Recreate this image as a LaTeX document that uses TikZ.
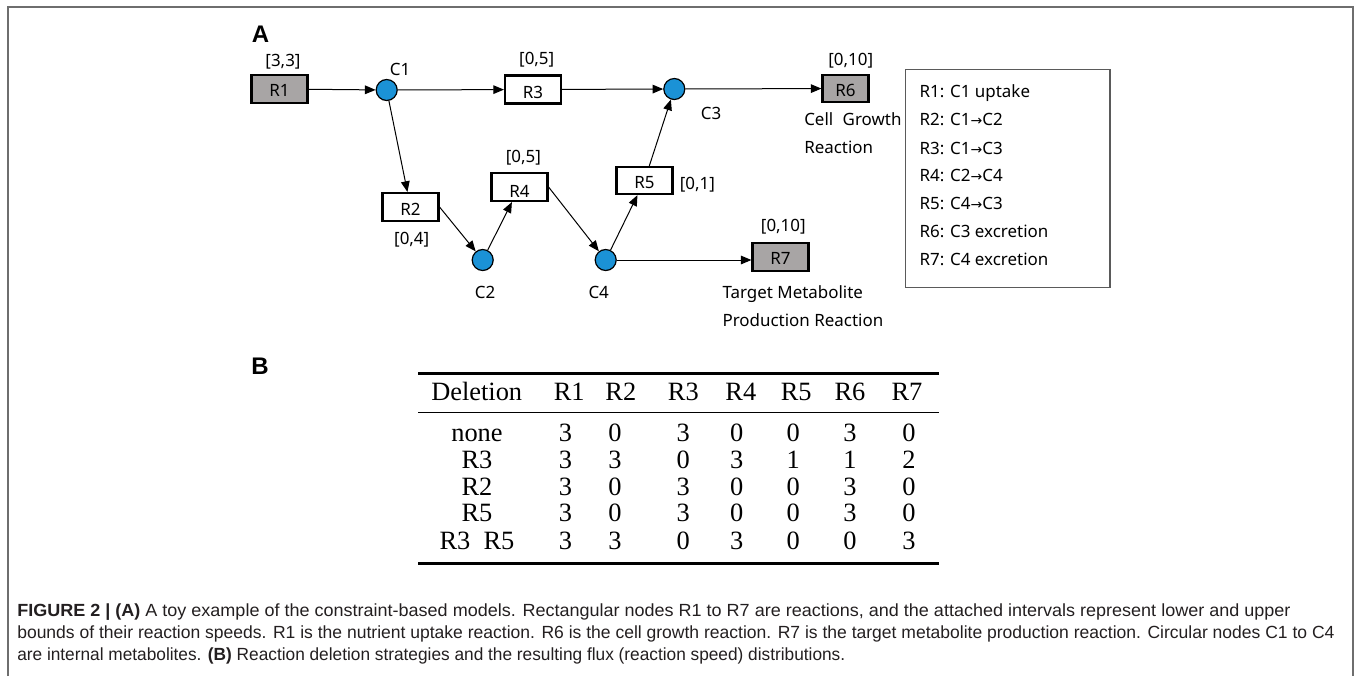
\documentclass[tikz,border=0pt]{standalone}
\usepackage{fontspec}
\usepackage{graphicx}
\usetikzlibrary{arrows.meta}
\setmainfont{Noto Sans}
\newfontfamily\capfont{Liberation Sans}
\newfontfamily\tabfont{Liberation Serif}
\newfontfamily\symfont{DejaVu Sans}
\definecolor{metab}{RGB}{27,146,214}
\definecolor{rxgrey}{RGB}{168,165,165}
\definecolor{framegrey}{RGB}{110,110,110}
\definecolor{boxgrey}{RGB}{90,90,90}
\definecolor{captext}{RGB}{35,31,32}
\newcommand{\labfont}{\fontsize{12.7}{14}\selectfont}
\newcommand{\fitw}[2]{\resizebox{#1}{\height}{#2}}
\newcommand{\rarr}{{\symfont\fontsize{10.5}{10}\selectfont →}}
\begin{document}
\begin{tikzpicture}[x=0.75pt,y=-0.75pt,
  rxn/.style={draw=black, line width=1.6pt, minimum width=42pt, minimum height=21pt,
    inner sep=0pt, font=\labfont, text height=9pt, text depth=0pt},
  rxng/.style={rxn, fill=rxgrey},
  met/.style={circle, draw=black, line width=0.9pt, fill=metab, minimum size=15.75pt, inner sep=0pt},
  arr/.style={-{Triangle[length=8pt,width=6.5pt]}, line width=0.75pt},
  lab/.style={font=\labfont, inner sep=0pt, anchor=base},
  labw/.style={lab, anchor=base west},
  panel/.style={font=\capfont\bfseries\fontsize{18}{20}\selectfont, inner sep=0pt, anchor=base west},
  tabcell/.style={font=\tabfont\fontsize{19.8}{20}\selectfont, inner sep=0pt, anchor=base},
  capline/.style={font=\capfont\fontsize{13.2}{14}\selectfont, text=captext, inner sep=0pt, anchor=base west}]
\useasboundingbox (0,0) rectangle (1356,676);

% frame
\draw[framegrey, line width=1.5pt] (8.3,676) -- (8.3,6.7) -- (1353,6.7) -- (1353,676);

% panel labels
\node[panel] (pA) at (251.7,42.3) {A};
\node[panel] (pB) at (251,374) {B};

% reactions and metabolites
\node[rxng, text height=10.5pt] (R1) at (279.5,89) {R1};
\node[met] (C1) at (386.7,90) {};
\node[rxn, text height=14pt] (R3) at (533,89.5) {R3};
\node[met] (C3) at (674.3,89) {};
\node[rxng, minimum width=34.5pt, minimum height=20pt, text height=12.4pt] (R6) at (845.5,88.5) {R6};
\node[rxn, text height=12pt] (R2) at (410.5,207) {R2};
\node[met] (C2) at (482.7,260) {};
\node[rxn, text height=16pt] (R4) at (519.5,187) {R4};
\node[met] (C4) at (605.7,260) {};
\node[rxn, minimum height=20pt, text height=11.4pt] (R5) at (644.5,180.7) {R5};
\node[rxng, text height=11pt] (R7) at (780.5,257) {R7};

% connectors
\draw[arr] (R1) -- (C1);
\draw[arr] (C1) -- (R3);
\draw[arr] (R3) -- (C3);
\draw[arr] (C3) -- (R6);
\draw[arr] (C1) -- (R2);
\draw[arr] (R2.east) -- (C2);
\draw[arr] (C2) -- (R4);
\draw[arr] (R4.east) -- (C4);
\draw[arr] (C4) -- (R5);
\draw[arr] (R5) -- (C3);
\draw[arr] (C4) -- (C4 -| R7.west);

% labels
\node[lab] (b1) at (283,66.7) {[3,3]};
\node[lab] (lC1) at (400,75) {C1};
\node[lab] (b3) at (536.7,64) {[0,5]};
\node[lab] (lC3) at (711,119) {C3};
\node[lab] (b6) at (850.7,65) {[0,10]};
\node[labw] (g1) at (804,125) {Cell\hspace{0.3em} Growth};
\node[labw] (g2) at (804,153.3) {Reaction};
\node[lab] (b4) at (523.3,162.7) {[0,5]};
\node[lab] (b2) at (411.7,244) {[0,4]};
\node[lab] (lC2) at (485,298.3) {C2};
\node[lab] (lC4) at (598.7,298.3) {C4};
\node[lab] (b5) at (697.3,189.3) {[0,1]};
\node[lab] (b7) at (783.3,231.7) {[0,10]};
\node[labw] (t1) at (722.3,298.3) {Target Metabolite};
\node[labw] (t2) at (722.3,326.7) {Production Reaction};

% legend
\node[draw=boxgrey, line width=0.9pt, minimum width=153.2pt, minimum height=163.5pt, inner sep=0pt] (legend) at (1007.9,178.3) {};
\node[labw] (L1) at (919.3,97.3) {R1: C1 uptake};
\node[labw] (L2) at (919.3,125.7) {R2: C1\rarr C2};
\node[labw] (L3) at (919.3,154) {R3: C1\rarr C3};
\node[labw] (L4) at (919.3,181.7) {R4: C2\rarr C4};
\node[labw] (L5) at (919.3,209.3) {R5: C4\rarr C3};
\node[labw] (L6) at (919.3,237.7) {R6: C3 excretion};
\node[labw] (L7) at (919.3,265.7) {R7: C4 excretion};

% table
\draw[line width=2pt] (418.3,373.3) -- (939,373.3);
\draw[line width=1pt] (418.3,412.7) -- (939,412.7);
\draw[line width=2pt] (418.3,563.3) -- (939,563.3);
\node[tabcell] (head0) at (476.7,400) {Deletion};
\foreach \h/\xx [count=\c] in {R1/569.2, R2/620.8, R3/683.3, R4/740.8, R5/796.2, R6/850, R7/907} {
  \node[tabcell] (head\c) at (\xx,400) {\h};
}
\foreach \rl/\yy/\vals [count=\r] in {none/441.7/{3,0,3,0,0,3,0}, R3/468.3/{3,3,0,3,1,1,2}, R2/495/{3,0,3,0,0,3,0}, R5/521.7/{3,0,3,0,0,3,0}, {R3~~R5}/549/{3,3,0,3,0,0,3}} {
  \node[tabcell] (row\r) at (477,\yy) {\rl};
  \foreach \v [count=\c] in \vals {
    \pgfmathsetmacro\xx{{565.5,615,683.3,736.7,793.3,850,909}[\c-1]}
    \node[tabcell] (cell\r-\c) at (\xx,\yy) {\v};
  }
}

% caption
\node[capline] (cap1) at (17,616) {\fitw{955pt}{\textbf{FIGURE 2 | (A)} A toy example of the constraint-based models. Rectangular nodes R1 to R7 are reactions, and the attached intervals represent lower and upper}};
\node[capline] (cap2) at (17,638) {\fitw{988pt}{bounds of their reaction speeds. R1 is the nutrient uptake reaction. R6 is the cell growth reaction. R7 is the target metabolite production reaction. Circular nodes C1 to C4}};
\node[capline] (cap3) at (17,660) {\fitw{621pt}{are internal metabolites. \textbf{(B)} Reaction deletion strategies and the resulting flux (reaction speed) distributions.}};
\end{tikzpicture}
\end{document}
